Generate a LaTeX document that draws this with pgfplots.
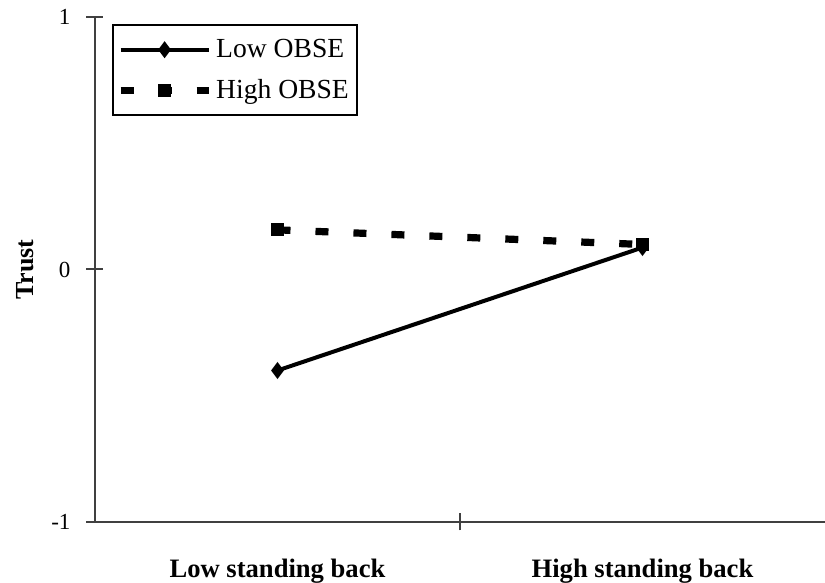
\documentclass[border=0pt]{standalone}
\usepackage{fontspec}
\setmainfont{Liberation Serif}
\usepackage{pgfplots}
\pgfplotsset{compat=1.18}
\begin{document}
\begin{tikzpicture}
\path[use as bounding box] (-47.5pt,-30.5pt) rectangle (365pt,261pt);
\begin{axis}[
  at={(0,0)}, anchor=south west,
  scale only axis, width=365pt, height=252.5pt,
  xmin=0, xmax=2, ymin=-1, ymax=1,
  axis x line=bottom, axis y line=left,
  axis line style={-, line width=1pt, black!75},
  tick style={line width=1pt, black!75},
  tick align=center, major tick length=8.5pt,
  ytick={-1,0,1}, yticklabels={-1,0,1},
  yticklabel style={font=\fontsize{11.5}{13}\selectfont, xshift=-4.5pt},
  xtick={1}, xticklabels={},
  extra x ticks={0.5,1.5},
  extra x tick labels={\textbf{Low standing back},\textbf{High standing back}},
  extra x tick style={major tick length=0pt, tick style={draw=none},
    xticklabel style={font=\fontsize{13.3}{15}\selectfont, anchor=base, yshift=-27.8pt}},
  ylabel={\textbf{Trust}},
  every axis y label/.style={at={([xshift=-35pt]axis description cs:0,0.5)}, rotate=90, anchor=center, font=\fontsize{13}{15}\selectfont},
  legend style={at={(axis description cs:0.0233,0.986)}, anchor=north west, draw=black, line width=1pt,
    font=\fontsize{13.8}{16}\selectfont, inner xsep=2pt, inner ysep=5pt, row sep=5.5pt,
    cells={anchor=west}},
  legend image code/.code={\draw[mark repeat=2,mark phase=2,#1] plot coordinates {(0pt,0pt) (22pt,0pt) (44pt,0pt)};},
  clip=false,
]
\addplot[black, line width=2pt, mark=diamond*, mark size=2.6pt, mark options={solid}]
  coordinates {(0.5,-0.40) (1.5,0.087)};
\addlegendentry{Low OBSE}
\addplot[black, line width=3.6pt, dash pattern=on 6.5pt off 12.5pt, mark=square*, mark size=3pt, mark options={solid, line width=0.5pt}]
  coordinates {(0.5,0.157) (1.5,0.099)};
\addlegendentry{High OBSE}
\end{axis}
\end{tikzpicture}
\end{document}
